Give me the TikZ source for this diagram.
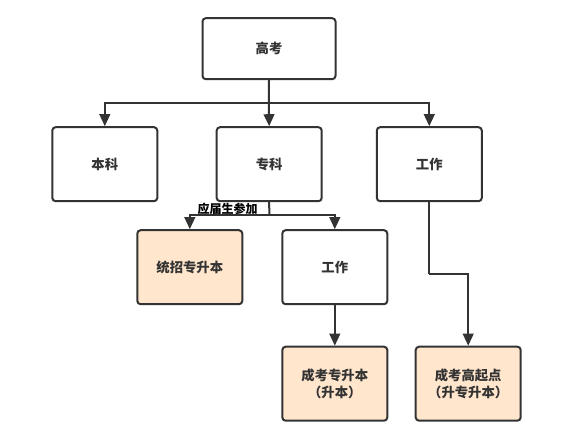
\documentclass[tikz,border=0pt]{standalone}
\usepackage{fontspec}
\newfontfamily\cjk{Noto Sans CJK SC}
\usetikzlibrary{arrows.meta}
\definecolor{ln}{HTML}{333333}
\definecolor{org}{HTML}{FFE6CC}
\tikzset{
  box/.style={draw=ln, line width=1.5pt, rounded corners=2.5pt, fill=white,
    minimum width=105\pxu, minimum height=74\pxu, inner sep=0pt,
    font=\cjk\bfseries\fontsize{10}{13}\selectfont, text=ln, align=center},
  obox/.style={box, fill=org},
  conn/.style={draw=ln, line width=1.5pt},
  arr/.style={conn, -{Triangle[length=9pt,width=8pt]}},
}
\newlength{\pxu}
\setlength{\pxu}{0.75pt}
\begin{document}
\begin{tikzpicture}[x=0.75pt, y=-0.75pt]
\useasboundingbox (0,0) rectangle (564,445);
\node[box, minimum width=133\pxu, minimum height=61\pxu] (gk) at (269,48.7) {高考};
\node[box] (bk) at (104.8,164.2) {本科};
\node[box] (zk) at (269.2,164.2) {专科};
\node[box] (gz) at (429.3,164.2) {工作};
\node[obox] (tzb) at (189.8,267.2) {统招专升本};
\node[box] (gz2) at (334.8,267.2) {工作};
\node[obox] (ck1) at (334.8,383.7) {成考专升本\\（升本）};
\node[obox] (ck2) at (468.2,383.7) {成考高起点\\（升专升本）};
\coordinate (j1) at (268.8,103.3);
\coordinate (j2) at (269.3,215);
\coordinate (j3) at (429.3,274);
\draw[conn] (gk.south) -- (j1);
\draw[arr] (j1) -| (bk.north);
\draw[arr] (j1) -- (zk.north);
\draw[arr] (j1) -| (gz.north);
\draw[conn] (zk.south) -- (j2);
\draw[arr] (j2) -| (tzb.north);
\draw[arr] (j2) -| (gz2.north);
\draw[arr] (gz2.south) -- (ck1.north);
\draw[conn] (gz.south) -- (j3);
\draw[arr] (j3) -| (ck2.north);
\node[font=\cjk\bfseries\fontsize{9}{11}\selectfont, inner sep=0pt] (lbl) at (227.5,208.5) {应届生参加};
\end{tikzpicture}
\end{document}
